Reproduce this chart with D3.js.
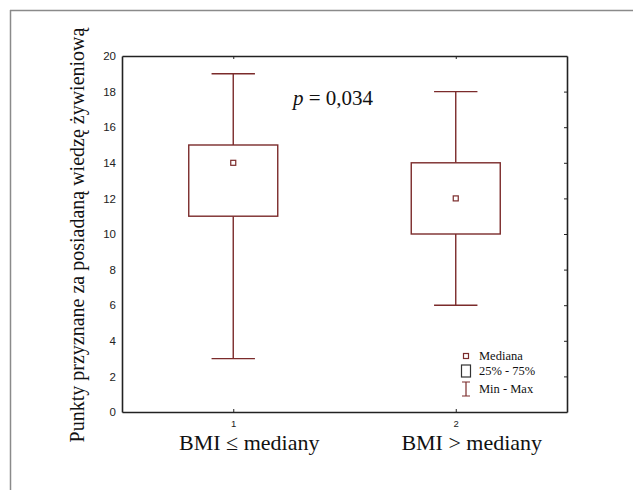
<!DOCTYPE html>
<html>
<head>
<meta charset="utf-8">
<script src="https://cdn.jsdelivr.net/npm/d3@7"></script>
<style>
  body { margin: 0; background: #fff; overflow: hidden; }
  svg { display: block; }
  .axis text { font-family: "Liberation Sans", Arial, sans-serif; fill: #222; }
  .axis path, .axis line { stroke: #222; }
</style>
</head>
<body>
<div id="chart"></div>
<script>
// data
var groups = [1, 2];
var groupLabels = ['BMI \u2264 mediany', 'BMI > mediany'];
var mins = [3, 6];
var q1s = [11, 10];
var medians = [14, 12];
var q3s = [15, 14];
var maxs = [19, 18];
var yTicks = [0, 2, 4, 6, 8, 10, 12, 14, 16, 18, 20];
var legendItems = ['Mediana', '25% - 75%', 'Min - Max'];
var yTitle = 'Punkty przyznane za posiadaną wiedzę żywieniową';
var pText = ' = 0,034';

var width = 633, height = 490;
var margin = { left: 122, top: 56, right: 66, bottom: 78 };
var boxColor = '#7b2b2b';

var svg = d3.select('#chart').append('svg')
    .attr('width', width)
    .attr('height', height);

// outer frame: top and left edges only
svg.append('line')
    .attr('x1', 10.5).attr('x2', 10.5).attr('y1', 10).attr('y2', height)
    .attr('stroke', '#8a8a8a').attr('stroke-width', 1.5);
svg.append('line')
    .attr('x1', 10).attr('x2', width).attr('y1', 10.5).attr('y2', 10.5)
    .attr('stroke', '#8a8a8a').attr('stroke-width', 1.5);

var xScale = d3.scaleLinear().domain([0.5, 2.5]).range([margin.left, width - margin.right]);
var yScale = d3.scaleLinear().domain([0, 20]).range([height - margin.bottom, margin.top]);

// axes
var bottom = svg.append('g').attr('class', 'axis')
    .attr('transform', 'translate(0,' + yScale(0) + ')')
    .call(d3.axisBottom(xScale).tickValues(groups).tickFormat(d3.format('d'))
        .tickSizeInner(-3).tickSizeOuter(0).tickPadding(8));
bottom.selectAll('text').attr('font-size', 9.5);

svg.append('g').attr('class', 'axis')
    .attr('transform', 'translate(0,' + yScale(20) + ')')
    .call(d3.axisTop(xScale).tickValues(groups).tickSizeInner(-3).tickSizeOuter(0).tickFormat(''));

var left = svg.append('g').attr('class', 'axis')
    .attr('transform', 'translate(' + xScale(0.5) + ',0)')
    .call(d3.axisLeft(yScale).tickValues(yTicks).tickSizeInner(0).tickSizeOuter(0).tickPadding(6));
left.selectAll('text').attr('font-size', 11.5);

svg.append('g').attr('class', 'axis')
    .attr('transform', 'translate(' + xScale(2.5) + ',0)')
    .call(d3.axisRight(yScale).tickValues(yTicks).tickSizeInner(-3).tickSizeOuter(0).tickFormat(''));

svg.selectAll('.axis path').attr('stroke-width', 1.6);

// boxes
var data = groups.map(function(g, i) {
    return { g: g, min: mins[i], q1: q1s[i], med: medians[i], q3: q3s[i], max: maxs[i] };
});
var boxW = 0.4, capW = 0.195;

var boxG = svg.append('g').selectAll('g').data(data).enter().append('g')
    .attr('stroke', boxColor)
    .attr('stroke-width', 1.4)
    .attr('fill', 'none');

boxG.append('line')
    .attr('x1', function(d) { return xScale(d.g); })
    .attr('x2', function(d) { return xScale(d.g); })
    .attr('y1', function(d) { return yScale(d.max); })
    .attr('y2', function(d) { return yScale(d.q3); });
boxG.append('line')
    .attr('x1', function(d) { return xScale(d.g); })
    .attr('x2', function(d) { return xScale(d.g); })
    .attr('y1', function(d) { return yScale(d.q1); })
    .attr('y2', function(d) { return yScale(d.min); });
boxG.append('line')
    .attr('x1', function(d) { return xScale(d.g - capW / 2); })
    .attr('x2', function(d) { return xScale(d.g + capW / 2); })
    .attr('y1', function(d) { return yScale(d.max); })
    .attr('y2', function(d) { return yScale(d.max); });
boxG.append('line')
    .attr('x1', function(d) { return xScale(d.g - capW / 2); })
    .attr('x2', function(d) { return xScale(d.g + capW / 2); })
    .attr('y1', function(d) { return yScale(d.min); })
    .attr('y2', function(d) { return yScale(d.min); });
boxG.append('rect')
    .attr('x', function(d) { return xScale(d.g - boxW / 2); })
    .attr('width', function(d) { return xScale(d.g + boxW / 2) - xScale(d.g - boxW / 2); })
    .attr('y', function(d) { return yScale(d.q3); })
    .attr('height', function(d) { return yScale(d.q1) - yScale(d.q3); })
    .attr('fill', '#fff');
boxG.append('rect')
    .attr('x', function(d) { return xScale(d.g) - 2.5; })
    .attr('y', function(d) { return yScale(d.med) - 2.5; })
    .attr('width', 5)
    .attr('height', 5)
    .attr('fill', '#fff')
    .attr('stroke-width', 1.2);

// category labels
svg.append('g').selectAll('text').data(groupLabels).enter().append('text')
    .attr('x', function(d, i) { return xScale(groups[i]) + 16; })
    .attr('y', 450)
    .attr('text-anchor', 'middle')
    .attr('font-family', '"Liberation Serif", "Times New Roman", serif')
    .attr('font-size', 22)
    .attr('fill', '#111')
    .text(function(d) { return d; });

// y title
svg.append('text')
    .attr('transform', 'translate(84,235) rotate(-90)')
    .attr('text-anchor', 'middle')
    .attr('font-family', '"Liberation Serif", "Times New Roman", serif')
    .attr('font-size', 20)
    .attr('fill', '#111')
    .text(yTitle);

// p value
var pt = svg.append('text')
    .attr('x', 293)
    .attr('y', 105)
    .attr('font-family', '"Liberation Serif", "Times New Roman", serif')
    .attr('font-size', 21)
    .attr('fill', '#111');
pt.append('tspan').attr('font-style', 'italic').text('p');
pt.append('tspan').text(pText);

// legend
var lg = svg.append('g')
    .attr('font-family', '"Liberation Serif", "Times New Roman", serif')
    .attr('font-size', 12.5)
    .attr('fill', '#111');
var lx = 466, ly = [356, 371, 389];
lg.append('rect').attr('x', lx - 2.5).attr('y', ly[0] - 2.5).attr('width', 5).attr('height', 5)
    .attr('fill', '#fff').attr('stroke', boxColor).attr('stroke-width', 1.2);
lg.append('rect').attr('x', lx - 4.5).attr('y', ly[1] - 6).attr('width', 9).attr('height', 12)
    .attr('fill', '#fff').attr('stroke', '#333').attr('stroke-width', 1.2);
lg.append('path')
    .attr('d', 'M' + (lx - 4) + ',' + (ly[2] - 7) + 'H' + (lx + 4) + 'M' + lx + ',' + (ly[2] - 7) + 'V' + (ly[2] + 7) + 'M' + (lx - 4) + ',' + (ly[2] + 7) + 'H' + (lx + 4))
    .attr('fill', 'none').attr('stroke', boxColor).attr('stroke-width', 1.2);
lg.selectAll('text.item').data(legendItems).enter().append('text')
    .attr('class', 'item')
    .attr('x', 479)
    .attr('y', function(d, i) { return ly[i] + 4; })
    .text(function(d) { return d; });
</script>
</body>
</html>
